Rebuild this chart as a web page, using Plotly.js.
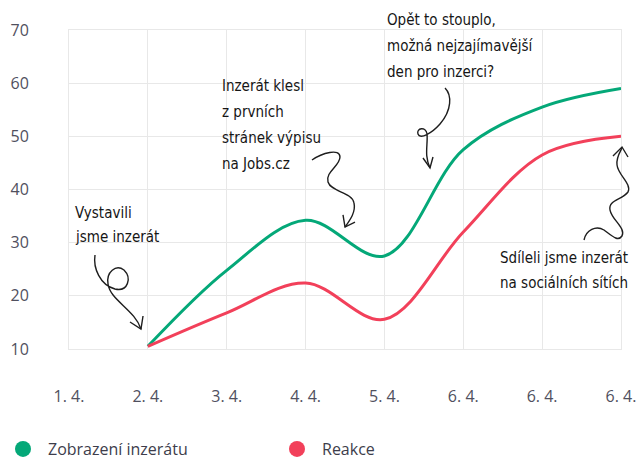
<!DOCTYPE html>
<html><head><meta charset="utf-8">
<script src="https://cdn.plot.ly/plotly-3.0.1.min.js"></script>
<style>html,body{margin:0;padding:0;background:#fff}#chart{width:638px;height:459px}</style>
</head><body><div id="chart"></div>
<script>
// ---- data ----
const categories = ['1. 4.', '2. 4.', '3. 4.', '4. 4.', '5. 4.', '6. 4.', '6. 4.', '6. 4.'];
const seriesNames = ['Zobrazení inzerátu', 'Reakce'];
const zobrazeni = [null, 10.5, 24.8, 34.2, 27.5, 47.5, 55.5, 59.0];
const reakce    = [null, 10.5, 16.8, 22.4, 15.6, 32.0, 46.5, 50.0];
const yTicks = [10, 20, 30, 40, 50, 60, 70];
const notes = [
  ['Vystavili', 'jsme inzerát'],
  ['Inzerát klesl', 'z prvních', 'stránek výpisu', 'na Jobs.cz'],
  ['Opět to stouplo,', 'možná nejzajímavější', 'den pro inzerci?'],
  ['Sdíleli jsme inzerát', 'na sociálních sítích']
];

// ---- layout helpers (pixel -> paper) ----
const L = 69, R = 621, T = 30, B = 349;
const W = R - L, H = B - T;
const px = x => (x - L) / W;
const py = y => (B - y) / H;
const pt = (x, y) => px(x).toFixed(4) + ',' + py(y).toFixed(4);
function bez(start, segs) {
  let s = 'M ' + pt(start[0], start[1]);
  segs.forEach(c => { s += ' C ' + pt(c[0], c[1]) + ' ' + pt(c[2], c[3]) + ' ' + pt(c[4], c[5]); });
  return s;
}
function poly(points) {
  return points.map((p, i) => (i ? 'L ' : 'M ') + pt(p[0], p[1])).join(' ');
}

const noteStyle = [
  {x: 73, y: 213, dy: 24},
  {x: 220, y: 86, dy: 26},
  {x: 385, y: 20, dy: 26},
  {x: 498, y: 258, dy: 25}
];

const annotations = [];
notes.forEach((lines, i) => {
  lines.forEach((t, j) => {
    annotations.push({
      text: t, xref: 'paper', yref: 'paper',
      x: px(noteStyle[i].x), y: py(noteStyle[i].y + j * noteStyle[i].dy),
      xanchor: 'left', yanchor: 'middle', showarrow: false,
      font: {family: 'DejaVu Sans Condensed, Liberation Sans Narrow, sans-serif', size: 15, color: '#161616'}
    });
  });
});

const arrowPaths = [
  bez([95, 255], [[93, 268, 100, 285, 115, 289], [128, 292, 132, 278, 124, 270], [116, 264, 106, 272, 108, 284], [110, 300, 135, 310, 141, 329]]),
  poly([[130, 322], [141, 329], [143, 316]]),
  bez([312, 160], [[322, 153, 340, 148, 340, 157], [340, 166, 325, 172, 328, 182], [331, 192, 352, 192, 354, 203], [356, 212, 350, 220, 345, 227]]),
  poly([[343, 215], [345, 227], [355, 222]]),
  bez([445, 88], [[452, 95, 452, 110, 440, 124], [432, 133, 420, 140, 418, 134], [416, 128, 426, 126, 427, 134], [428, 145, 424, 155, 430, 168]]),
  poly([[423, 158], [430, 168], [433, 157]]),
  bez([584, 240], [[586, 230, 596, 225, 604, 230], [612, 236, 618, 242, 622, 236], [626, 228, 612, 220, 610, 210], [608, 200, 622, 200, 628, 192], [632, 184, 618, 175, 617, 165], [616, 158, 620, 152, 622, 148]]),
  poly([[613, 156], [622, 147], [628, 157]])
];
const shapes = arrowPaths.map(p => ({
  type: 'path', xref: 'paper', yref: 'paper', path: p,
  line: {color: '#1e1e1e', width: 1.4}, layer: 'above'
}));

const xIdx = categories.map((c, i) => i);
const colors = ['#04a878', '#f2405a'];
const data = [zobrazeni, reakce].map((vals, k) => ({
  x: xIdx, y: vals, type: 'scatter', mode: 'lines', name: seriesNames[k],
  line: {color: colors[k], width: 3, shape: 'spline', smoothing: 1},
  showlegend: false, legendgroup: 'g' + k, hoverinfo: 'skip'
}));
seriesNames.forEach((n, k) => data.push({
  x: [null], y: [null], type: 'scatter', mode: 'markers', name: n,
  marker: {color: colors[k], size: 16}, legendgroup: 'g' + k, showlegend: true
}));

const gridC = '#e8e8e8';
const layout = {
  width: 638, height: 459,
  margin: {l: L, r: 638 - R, t: T, b: 459 - B, autoexpand: false},
  paper_bgcolor: '#fff', plot_bgcolor: '#fff',
  font: {family: 'Open Sans, Noto Sans, sans-serif', size: 16, color: '#50505e'},
  xaxis: {
    range: [0, 7], tickvals: xIdx, ticktext: categories, showgrid: true,
    gridcolor: gridC, gridwidth: 1, zeroline: false,
    showline: true, mirror: true, linecolor: gridC, linewidth: 1,
    ticks: '', ticklabelstandoff: 33, fixedrange: true, automargin: false,
    tickfont: {size: 16, color: '#50505e'}
  },
  yaxis: {
    range: [10, 70], tickvals: yTicks, showgrid: true, gridcolor: gridC,
    zeroline: false, showline: true, mirror: true, linecolor: gridC, linewidth: 1,
    ticks: '', ticklabelstandoff: 36,
    fixedrange: true, automargin: false, tickfont: {size: 16, color: '#50505e'}
  },
  showlegend: true,
  legend: {
    orientation: 'h', x: px(-2), y: py(449), xanchor: 'left', yanchor: 'middle',
    font: {size: 16, color: '#3d3d4b'}, itemwidth: 40, entrywidth: 219,
    entrywidthmode: 'pixels', bgcolor: 'rgba(0,0,0,0)'
  },
  annotations: annotations,
  shapes: shapes
};
Plotly.newPlot('chart', data, layout, {displayModeBar: false, staticPlot: true});
</script></body></html>
